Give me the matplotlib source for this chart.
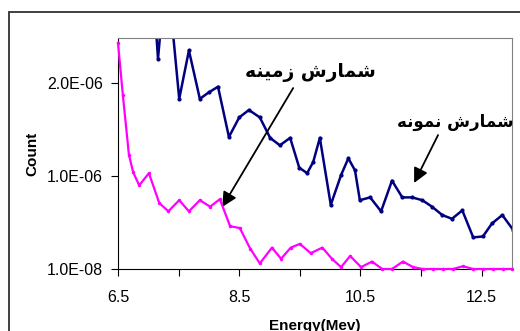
import matplotlib as mpl
mpl.use('Agg')
import matplotlib.pyplot as plt
from matplotlib.patches import Rectangle

plt.rcParams['font.family'] = ['Liberation Sans', 'DejaVu Sans']

# energy (MeV) and counts (in units of 1e-6)
e_sample = [7.06, 7.16, 7.29, 7.34, 7.51, 7.67, 7.85, 8.00, 8.15, 8.33, 8.50,
            8.66, 8.84, 9.01, 9.17, 9.34, 9.49, 9.62, 9.72, 9.83, 10.01, 10.18,
            10.30, 10.41, 10.49, 10.66, 10.84, 11.02, 11.19, 11.35, 11.52, 11.68,
            11.85, 12.01, 12.18, 12.36, 12.52, 12.67, 12.84, 13.02]
c_sample = [3.22, 2.26, 3.22, 3.00, 1.83, 2.35, 1.83, 1.90, 1.96, 1.42, 1.63,
            1.71, 1.63, 1.41, 1.33, 1.41, 1.09, 1.03, 1.15, 1.41, 0.69, 1.01,
            1.19, 1.06, 0.74, 0.77, 0.62, 0.95, 0.77, 0.77, 0.74, 0.67,
            0.58, 0.54, 0.63, 0.34, 0.35, 0.49, 0.58, 0.42]

e_bg = [6.50, 6.58, 6.68, 6.75, 6.85, 7.01, 7.18, 7.33, 7.51, 7.67, 7.85, 8.02,
        8.18, 8.35, 8.51, 8.68, 8.84, 9.04, 9.19, 9.35, 9.50, 9.68, 9.87, 10.03,
        10.18, 10.33, 10.51, 10.69, 10.86, 11.02, 11.20, 11.37, 11.53, 11.70,
        11.86, 12.03, 12.19, 12.36, 12.52, 12.69, 12.85, 13.00]
c_bg = [2.43, 1.87, 1.23, 1.04, 0.90, 1.03, 0.71, 0.62, 0.74, 0.62, 0.74, 0.67,
        0.75, 0.46, 0.44, 0.22, 0.06, 0.23, 0.11, 0.23, 0.27, 0.17, 0.23, 0.11,
        0.02, 0.14, 0.02, 0.08, 0.0, 0.0, 0.08, 0.02, 0.0, 0.0,
        0.0, 0.0, 0.03, 0.0, 0.0, 0.0, 0.0, 0.0]

xticks = [6.5, 7.5, 8.5, 9.5, 10.5, 11.5, 12.5]
xlabels = ['6.5', '', '8.5', '', '10.5', '', '12.5']
yticks = [0, 1, 2]
ylabels = ['1.0E-08', '1.0E-06', '2.0E-06']

# Persian labels, shaped by hand (presentation forms, visual order)
lab_bg = '\ufeea\ufee8\ufef4\ufee3\ufeaf \ufeb5\ufead\ufe8e\ufee4\ufeb7'      # شمارش زمینه
lab_sample = '\ufeea\ufee7\ufeee\ufee4\ufee7 \ufeb5\ufead\ufe8e\ufee4\ufeb7'  # شمارش نمونه

fig = plt.figure(figsize=(5.2, 3.31), dpi=100)
ax = fig.add_axes([118/520, 1-269/331, 394/520, 231/331])

ax.plot(e_sample, c_sample, color='#000080', lw=1.8, marker='o', ms=2)
ax.plot(e_bg, c_bg, color='#ff00ff', lw=1.6, marker='o', ms=1.5,
        clip_on=False, zorder=5)

ax.set_xlim(6.5, 13.0)
ax.set_ylim(0, 2.484)
ax.set_xticks(xticks)
ax.set_xticklabels(xlabels)
ax.set_yticks(yticks)
ax.set_yticklabels(ylabels)
ax.tick_params(labelsize=11.5, length=5, direction='out')
ax.tick_params(axis='y', pad=6)
ax.tick_params(axis='x', pad=10)
for s in ['top', 'right']:
    ax.spines[s].set_color('#808080')
ax.spines['left'].set_color('black')
ax.spines['bottom'].set_color('black')

ax.set_xlabel('Energy(Mev)', fontsize=11, fontweight='bold')
ax.xaxis.set_label_coords(0.5, -0.215)
ax.set_ylabel('Count', fontsize=11, fontweight='bold')
ax.yaxis.set_label_coords(-0.2, 0.5)

arw = dict(arrowstyle='-|>', mutation_scale=22, color='black', lw=1.3,
           shrinkA=0, shrinkB=0)
ax.text(9.67, 2.11, lab_bg, ha='center', va='center', fontsize=13.5,
        fontweight='bold', family=['DejaVu Sans'])
ax.annotate('', xy=(8.22, 0.667), xytext=(9.39, 1.946), arrowprops=arw)
ax.text(12.06, 1.58, lab_sample, ha='center', va='center', fontsize=12,
        fontweight='bold', family=['DejaVu Sans'])
ax.annotate('', xy=(11.385, 0.925), xytext=(11.78, 1.44), arrowprops=arw)

fig.add_artist(Rectangle((9/520, -0.5), 2, 1.5-12/331, transform=fig.transFigure,
                         fill=False, ec='#303030', lw=1.3))

fig.savefig('out.png', dpi=100)
